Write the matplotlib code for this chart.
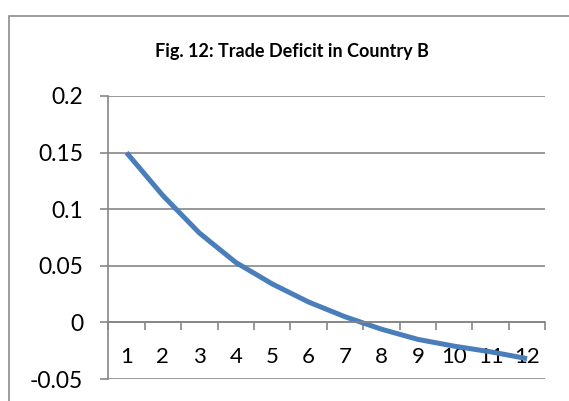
import matplotlib.pyplot as plt
import matplotlib.patches as patches

periods = list(range(1, 13))
deficit = [0.150, 0.112, 0.079, 0.053, 0.034, 0.018, 0.005, -0.006, -0.015, -0.021, -0.026, -0.032]
yticks = [-0.05, 0, 0.05, 0.1, 0.15, 0.2]
ylabels = ["-0.05", "0", "0.05", "0.1", "0.15", "0.2"]

plt.rcParams['font.family'] = ['Lato', 'DejaVu Sans']

W, H = 569, 401
fig = plt.figure(figsize=(W / 100, H / 100), dpi=100)
ax = fig.add_axes([108.3 / W, 1 - 379 / H, 437 / W, 283 / H])

# chart frame, cut off at right and bottom like the screenshot
frame = patches.Rectangle((9 / W, -0.5), 2, 1.5 - 16 / H,
                          transform=fig.transFigure, fill=False,
                          edgecolor='#8c8c8c', linewidth=1.2)
fig.patches.append(frame)

ax.plot(periods, deficit, color='#4a7ebb', linewidth=3.6, solid_capstyle='butt')

ax.set_xlim(0.5, 12.5)
ax.set_ylim(-0.05, 0.2)
ax.set_yticks(yticks)
ax.set_yticklabels(ylabels, fontsize=16.5)
ax.yaxis.grid(True, color='#868686', linewidth=1.2)
ax.set_axisbelow(True)

ax.spines['top'].set_visible(False)
ax.spines['right'].set_visible(False)
ax.spines['left'].set_color('#868686')
ax.spines['left'].set_linewidth(1.2)
ax.spines['bottom'].set_position(('data', 0))
ax.spines['bottom'].set_color('#868686')
ax.spines['bottom'].set_linewidth(1.2)

ax.tick_params(axis='y', length=6, width=1.2, color='#868686', pad=12)
ax.set_xticks([p + 0.5 for p in [0] + periods])
ax.set_xticklabels([])
ax.tick_params(axis='x', which='major', length=6, width=1.2, color='#868686', direction='out')
ax.set_xticks(periods, minor=True)
ax.set_xticklabels([str(p) for p in periods], minor=True, fontsize=16)
ax.tick_params(axis='x', which='minor', length=0, pad=18)

fig.text(291.5 / W, 1 - 56.7 / H, "Fig. 12: Trade Deficit in Country B",
         ha='center', va='baseline', fontsize=13, fontweight='bold')

fig.savefig("out.png", dpi=100)
